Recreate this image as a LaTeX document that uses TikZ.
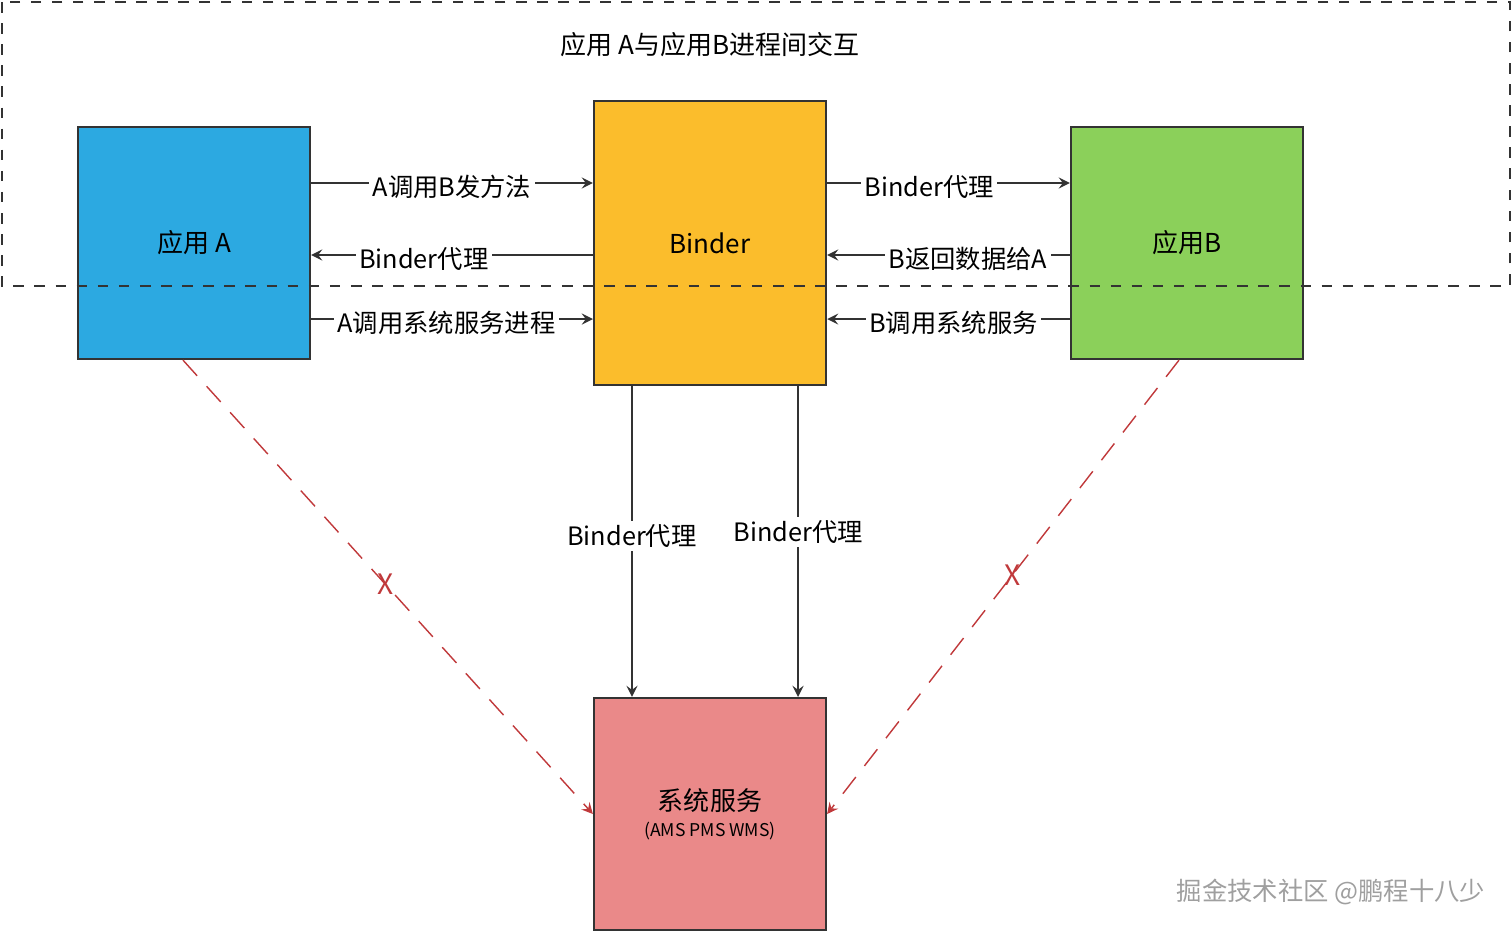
\documentclass[tikz,border=0pt]{standalone}
\usepackage{fontspec}
\setmainfont{Noto Sans CJK SC}
\usepackage{tikz}
\usetikzlibrary{arrows}
\definecolor{appblue}{RGB}{44,169,225}
\definecolor{bindery}{RGB}{251,189,44}
\definecolor{appgreen}{RGB}{139,208,90}
\definecolor{syspink}{RGB}{234,137,137}
\definecolor{edgegray}{RGB}{51,51,51}
\definecolor{crossred}{RGB}{192,57,59}

\begin{document}
\begin{tikzpicture}[x=0.01cm,y=-0.01cm,
    box/.style={draw=edgegray,line width=0.6pt,minimum width=2.32cm,minimum height=2.32cm,inner sep=0pt},
    lbl/.style={fill=white,inner sep=1pt,yshift=-1.2pt,font=\fontsize{7.2}{9}\selectfont},
    link/.style={-stealth,draw=edgegray,line width=0.4pt},
    nolink/.style={-stealth,draw=crossred,line width=0.4pt,dash pattern=on 6pt off 4pt}]
    \useasboundingbox (0,0) rectangle (1512,932);
    % boxes
    \node[box,fill=appblue] (appA) at (194,243) {\fontsize{7.4}{9}\selectfont 应用 A};
    \node[box,fill=bindery,minimum height=2.84cm] (binder) at (710,243) {\fontsize{7.4}{9}\selectfont Binder};
    \node[box,fill=appgreen] (appB) at (1187,243) {\fontsize{7.4}{9}\selectfont 应用B};
    \node[box,fill=syspink,align=center] (sys) at (710,814) {\fontsize{7.4}{8}\selectfont 系统服务\\[-4.5pt]\fontsize{5}{6}\selectfont (AMS PMS WMS)};
    % process boundary
    \draw[dashed,edgegray,line width=0.4pt] (2,2) rectangle (1510,286);
    \node[font=\fontsize{7.4}{9}\selectfont] (title) at (710,45) {应用 A与应用B进程间交互};
    % A <-> Binder
    \draw[link] ([yshift=0.6cm]appA.east) -- node[lbl] {A调用B发方法} ([yshift=0.6cm]binder.west);
    \draw[link] ([yshift=-0.12cm]binder.west) -- node[lbl,pos=0.6] {Binder代理} ([yshift=-0.12cm]appA.east);
    \draw[link] ([yshift=-0.76cm]appA.east) -- node[lbl,pos=0.48] {A调用系统服务进程} ([yshift=-0.76cm]binder.west);
    % B <-> Binder
    \draw[link] ([yshift=0.6cm]binder.east) -- node[lbl,pos=0.42] {Binder代理} ([yshift=0.6cm]appB.west);
    \draw[link] ([yshift=-0.12cm]appB.west) -- node[lbl,pos=0.42] {B返回数据给A} ([yshift=-0.12cm]binder.east);
    \draw[link] ([yshift=-0.76cm]appB.west) -- node[lbl,pos=0.48] {B调用系统服务} ([yshift=-0.76cm]binder.east);
    % Binder -> system
    \draw[link] ([xshift=-0.78cm]binder.south) -- node[lbl,pos=0.47] {Binder代理} ([xshift=-0.78cm]sys.north);
    \draw[link] ([xshift=0.88cm]binder.south) -- node[lbl,pos=0.455] {Binder代理} ([xshift=0.88cm]sys.north);
    % direct calls not allowed
    \draw[nolink] ([xshift=-0.11cm]appA.south) -- node[pos=0.494,text=crossred,font=\fontsize{8}{9}\selectfont] {X} (sys.west);
    \draw[nolink] ([xshift=-0.08cm]appB.south) -- node[pos=0.473,text=crossred,font=\fontsize{8}{9}\selectfont] {X} (sys.east);
    % watermark
    \node[text=gray!75,font=\fontsize{7.2}{8}\selectfont] (mark) at (1331,892) {掘金技术社区 @鹏程十八少};
\end{tikzpicture}
\end{document}
